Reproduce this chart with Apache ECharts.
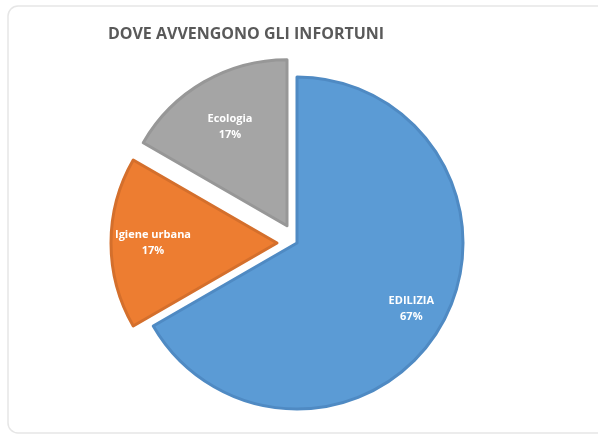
<!DOCTYPE html>
<html>
<head>
<meta charset="utf-8">
<script src="https://cdn.jsdelivr.net/npm/echarts@6/dist/echarts.min.js"></script>
<style>
  html, body { margin: 0; padding: 0; background: #fff; }
  #chart { width: 598px; height: 435px; }
</style>
</head>
<body>
<div id="chart"></div>
<script>
// data
const categories = ['EDILIZIA', 'Igiene urbana', 'Ecologia']
const values = [4, 1, 1]
const exploded = [false, true, true]
const fills = ['#5b9bd5', '#ed7d31', '#a5a5a5']
const borders = ['#4f8ac3', '#d46f2c', '#979797']

const pieCenter = [297, 243]
const pieRadius = 166
// how far each inside label is pushed out toward the rim
const labelPush = [46, 38, 28]

const chart = echarts.init(document.getElementById('chart'))
chart.setOption({
  animation: false,
  title: {
    text: 'DOVE AVVENGONO GLI INFORTUNI',
    left: 241,
    top: 21,
    textAlign: 'center',
    textStyle: {
      fontFamily: 'Open Sans',
      fontWeight: 'bold',
      fontSize: 16,
      color: '#595959'
    }
  },
  graphic: [{
    type: 'rect',
    silent: true,
    shape: { x: 8, y: 6, width: 620, height: 427, r: 10 },
    style: { fill: 'none', stroke: '#e6e6e6', lineWidth: 1.5 }
  }],
  series: [{
    type: 'pie',
    center: pieCenter,
    radius: pieRadius,
    startAngle: 90,
    clockwise: true,
    selectedMode: 'multiple',
    selectedOffset: 20,
    percentPrecision: 2,
    emphasis: { scale: false, disabled: true },
    label: {
      position: 'inside',
      color: '#fff',
      fontFamily: 'Open Sans',
      fontWeight: 'bold',
      fontSize: 11,
      lineHeight: 16,
      formatter: p => p.name + '\n' + Math.round(p.percent) + '%'
    },
    labelLine: { show: false },
    labelLayout: function (params) {
      const r = params.labelRect
      const vx = r.x + r.width / 2 - pieCenter[0]
      const vy = r.y + r.height / 2 - pieCenter[1]
      const len = Math.sqrt(vx * vx + vy * vy) || 1
      const extra = labelPush[params.dataIndex]
      return { dx: vx / len * extra, dy: vy / len * extra }
    },
    data: categories.map((name, i) => ({
      name: name,
      value: values[i],
      selected: exploded[i],
      itemStyle: { color: fills[i], borderColor: borders[i], borderWidth: 3 },
      select: { itemStyle: { color: fills[i], borderColor: borders[i], borderWidth: 3 } }
    }))
  }]
})
</script>
</body>
</html>
